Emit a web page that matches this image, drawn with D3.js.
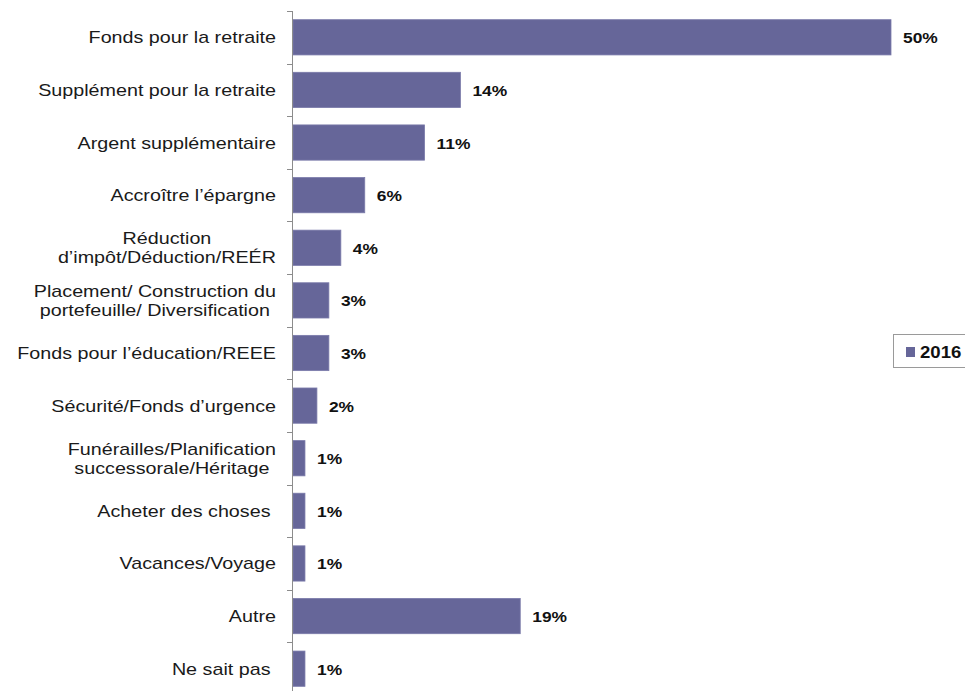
<!DOCTYPE html>
<html>
<head>
<meta charset="utf-8">
<script src="https://cdn.jsdelivr.net/npm/d3@7"></script>
<style>
  html, body { margin: 0; padding: 0; background: #fff; }
  svg { display: block; }
  text { font-family: "Liberation Sans", Arial, sans-serif; white-space: pre; }
</style>
</head>
<body>
<svg id="chart" width="965" height="691"></svg>
<script>
// Category labels (multi-line labels split on "\n")
const categories = [
  "Fonds pour la retraite",
  "Supplément pour la retraite",
  "Argent supplémentaire",
  "Accroître l’épargne",
  "Réduction\nd’impôt/Déduction/REÉR",
  "Placement/ Construction du\nportefeuille/ Diversification",
  "Fonds pour l’éducation/REEE",
  "Sécurité/Fonds d’urgence",
  "Funérailles/Planification\nsuccessorale/Héritage",
  "Acheter des choses ",
  "Vacances/Voyage",
  "Autre",
  "Ne sait pas "
];
// Share of respondents (%) — 2016
const values2016 = [50, 14, 11, 6, 4, 3, 3, 2, 1, 1, 1, 19, 1];
const seriesName = "2016";
const valueLabels = values2016.map(v => v + "%");

const barColor = "#666699";
const stretch = 1.16;   // horizontal widening of the typeface

const svg = d3.select("#chart");

const x = d3.scaleLinear().domain([0, 50]).range([293, 891]);
const y = d3.scaleBand()
  .domain(categories)
  .range([11, 695])
  .paddingInner(0.33)
  .paddingOuter(0.165);

// Bars
svg.append("g").selectAll("rect")
  .data(categories)
  .join("rect")
  .attr("x", x(0))
  .attr("y", d => y(d))
  .attr("width", (d, i) => x(values2016[i]) - x(0))
  .attr("height", y.bandwidth())
  .attr("fill", barColor)
  .attr("stroke", "#7a7aaa")
  .attr("stroke-width", 0.8);

// Category axis: vertical line with ticks between categories
const axisG = svg.append("g");
axisG.append("line")
  .attr("x1", 292.5).attr("x2", 292.5)
  .attr("y1", 11).attr("y2", 691)
  .attr("stroke", "#8c8c8c").attr("stroke-width", 1);
const step = y.step();
const boundaries = categories.map(c => y(c) - y.paddingInner() * step / 2)
  .concat([y(categories[categories.length - 1]) + y.bandwidth() + y.paddingInner() * step / 2]);
axisG.selectAll("line.tick")
  .data(boundaries)
  .join("line")
  .attr("class", "tick")
  .attr("x1", 287).attr("x2", 292.5)
  .attr("y1", d => Math.round(d) + 0.5).attr("y2", d => Math.round(d) + 0.5)
  .attr("stroke", "#8c8c8c").attr("stroke-width", 1);

// Category labels, centred line-by-line, right edge against the axis
const labelRight = 276;
const lineH = 19;
categories.forEach(c => {
  const lines = c.split("\n");
  const cy = y(c) + y.bandwidth() / 2;
  const g = svg.append("g");
  const t = g.append("text")
    .attr("text-anchor", "middle")
    .attr("font-size", 17)
    .attr("fill", "#1a1a1a");
  lines.forEach((ln, k) => {
    t.append("tspan")
      .attr("x", 0)
      .attr("y", 6 + (k - (lines.length - 1) / 2) * lineH)
      .text(ln);
  });
  const w = d3.max(t.selectAll("tspan").nodes(), n => n.getComputedTextLength());
  g.attr("transform", `translate(${labelRight - w * stretch / 2},${cy}) scale(${stretch},1)`);
});

// Value labels
svg.append("g").selectAll("g")
  .data(categories)
  .join("g")
  .attr("transform", (d, i) => `translate(${x(values2016[i]) + 12},${y(d) + y.bandwidth() / 2 + 6}) scale(${stretch},1)`)
  .append("text")
  .attr("font-size", 15)
  .attr("font-weight", "bold")
  .attr("fill", "#111")
  .text((d, i) => valueLabels[i]);

// Legend
const lg = svg.append("g");
lg.append("rect")
  .attr("x", 893.5).attr("y", 334.5)
  .attr("width", 90).attr("height", 33)
  .attr("fill", "#fff")
  .attr("stroke", "#9a9a9a").attr("stroke-width", 1);
lg.append("rect")
  .attr("x", 906).attr("y", 347)
  .attr("width", 9).attr("height", 10)
  .attr("fill", barColor);
lg.append("g")
  .attr("transform", `translate(920,358) scale(${stretch},1)`)
  .append("text")
  .attr("font-size", 16)
  .attr("font-weight", "bold")
  .attr("fill", "#111")
  .text(seriesName);
</script>
</body>
</html>
